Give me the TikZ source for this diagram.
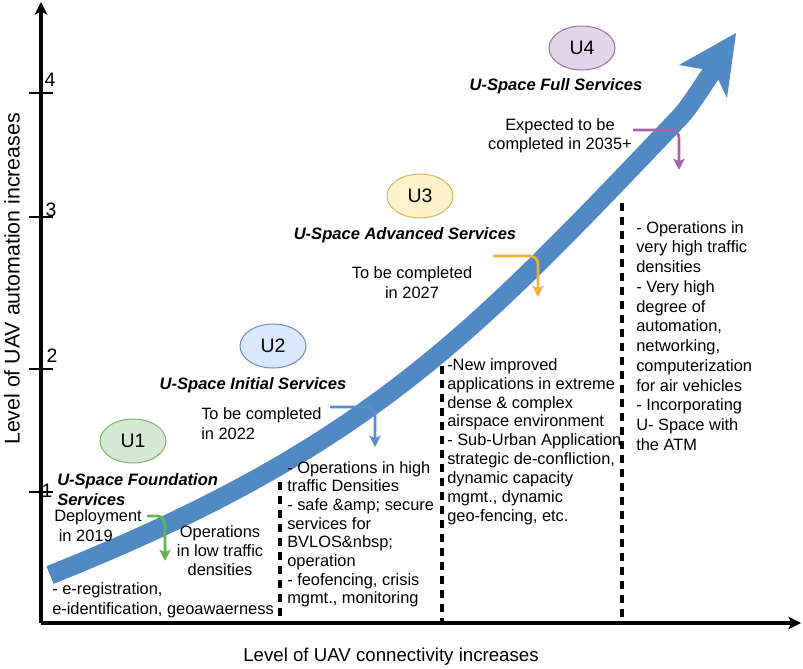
\documentclass[tikz,border=0pt]{standalone}
\usepackage{fontspec}
\setmainfont{Liberation Sans}
\usetikzlibrary{arrows.meta,shapes.geometric}
\definecolor{bandblue}{RGB}{81,137,196}
\definecolor{garr}{RGB}{98,182,80}
\definecolor{barr}{RGB}{88,142,201}
\definecolor{yarr}{RGB}{232,181,58}
\definecolor{parr}{RGB}{166,101,168}
\definecolor{gfill}{HTML}{D5E8D4}\definecolor{gline}{HTML}{82B366}
\definecolor{bfill}{HTML}{DAE8FC}\definecolor{bline}{HTML}{6C8EBF}
\definecolor{yfill}{HTML}{FFF2CC}\definecolor{yline}{HTML}{D6B656}
\definecolor{pfill}{HTML}{E1D5E7}\definecolor{pline}{HTML}{9673A6}
\begin{document}
\begin{tikzpicture}[x=0.75pt,y=-0.75pt,
 axis/.style={line width=2.4pt,-{Stealth[length=9.5pt,width=9.5pt,inset=2.5pt]}},
 tickln/.style={line width=2.1pt},
 dashln/.style={line width=2.4pt, dash pattern=on 6pt off 4.5pt},
 ell/.style={ellipse, draw, line width=0.75pt, minimum width=49.5pt, minimum height=33pt, inner sep=0pt, font=\fontsize{14.6}{17}\selectfont},
 txt/.style={inner sep=0pt, align=left, anchor=north west, font=\fontsize{12.3}{#1}\selectfont},
 txt/.default=15,
 ctxt/.style={inner sep=0pt, align=center, anchor=north, font=\fontsize{12.3}{#1}\selectfont},
 ctxt/.default=15,
 ttl/.style={inner sep=0pt, align=left, font=\fontsize{12.4}{15}\selectfont\bfseries\itshape},
 bent/.style={line width=2pt, rounded corners=6pt, -{Stealth[length=8.5pt,width=8.5pt,inset=1.8pt]}},
 num/.style={inner sep=0pt, font=\fontsize{14.6}{17}\selectfont},
 axlbl/.style={inner sep=0pt, font=\fontsize{14}{17}\selectfont}
]
\useasboundingbox (0,0) rectangle (803,668);
\fill[white] (0,0) rectangle (803,668);

% big progress arrow
\draw[bandblue, line width=14.3pt] (50,575) .. controls (370,447) and (473,334) .. (680,117) .. controls (689.7,106.9) and (705,81.8) .. (714,69);
\fill[bandblue] (679,65) -- (736,33) -- (727,98) -- (718,79) -- (702,69) -- cycle;

% axes
\coordinate (O) at (41,623);
\coordinate (ytop) at (41,2);
\coordinate (xend) at (801,623);
\draw[axis] (O) -- (ytop);
\draw[axis] (O) -- (xend);
\foreach \yy/\nm in {93/4,217/3,369/2,492/1}{
  \coordinate (tl\nm) at (29,\yy);
  \coordinate (tr\nm) at (53,\yy);
  \draw[tickln] (tl\nm) -- (tr\nm);
}
\node[num] (n4) at (50,80) {4};
\node[num] (n3) at (51,210) {3};
\node[num] (n2) at (52,356) {2};
\node[num] (n1) at (47,491) {1};

\node[axlbl] (xlab) at (391,657) {Level of UAV connectivity increases};
\node[axlbl, font=\fontsize{16}{19}\selectfont, rotate=90] (ylab) at (12,279) {Level of UAV automation increases};

% dashed separators
\coordinate (d1t) at (280,482); \coordinate (d1b) at (280,623);
\coordinate (d2t) at (442,366); \coordinate (d2b) at (442,623);
\coordinate (d3t) at (622,203); \coordinate (d3b) at (622,623);
\draw[dashln] (d1t) -- (d1b);
\draw[dashln] (d2t) -- (d2b);
\draw[dashln] (d3t) -- (d3b);

% ellipses
\node[ell, fill=gfill, draw=gline] (u1) at (133,441) {U1};
\node[ell, fill=bfill, draw=bline] (u2) at (273,346) {U2};
\node[ell, fill=yfill, draw=yline] (u3) at (420,196) {U3};
\node[ell, fill=pfill, draw=pline] (u4) at (582,48) {U4};

% titles
\node[ttl, anchor=north west] (t1) at (57,473) {U-Space Foundation\\Services};
\node[ttl] (t2) at (253,385) {U-Space Initial Services};
\node[ttl] (t3) at (405,235) {U-Space Advanced Services};
\node[ttl] (t4) at (556,86) {U-Space Full Services};

% texts
\node[txt] (dep) at (54,509) {Deployment\\\hspace*{0.28em}in 2019};
\node[ctxt=14.3] (low) at (220,525) {Operations\\in low traffic\\densities};
\node[txt] (s1) at (52,582) {- e-registration,\\e-identification, geoawaerness};
\node[txt] (c22) at (201,407) {To be completed\\in 2022};
\node[txt=14] (s2) at (287,461) {- Operations in high\\traffic Densities\\- safe \&amp; secure\\services for\\BVLOS\&nbsp;\\operation\\- feofencing, crisis\\mgmt., monitoring};
\node[ctxt] (c27) at (412,266) {To be completed\\in 2027};
\node[txt=14.2] (s3) at (447,358) {-New improved\\applications in extreme\\dense \& complex\\airspace environment\\- Sub-Urban Application\\strategic de-confliction,\\dynamic capacity\\mgmt., dynamic\\geo-fencing, etc.};
\node[ctxt=14.25] (c35) at (560,118) {Expected to be\\completed in 2035+};
\node[txt=14.8] (s4) at (636,221) {- Operations in\\very high traffic\\densities\\- Very high\\degree of\\automation,\\networking,\\computerization\\for air vehicles\\- Incorporating\\U- Space with\\the ATM};

% bent arrows
\coordinate (g1) at (147,516); \coordinate (g2) at (165,516); \coordinate (g3) at (165,561);
\draw[bent, garr] (g1) -- (g2) -- (g3);
\coordinate (b1) at (330,407); \coordinate (b2) at (375,407); \coordinate (b3) at (375,447);
\draw[bent, barr] (b1) -- (b2) -- (b3);
\coordinate (y1) at (493,256); \coordinate (y2) at (538,256); \coordinate (y3) at (538,297);
\draw[bent, yarr] (y1) -- (y2) -- (y3);
\coordinate (p1) at (633,130); \coordinate (p2) at (679,130); \coordinate (p3) at (679,170);
\draw[bent, parr] (p1) -- (p2) -- (p3);
\end{tikzpicture}
\end{document}
